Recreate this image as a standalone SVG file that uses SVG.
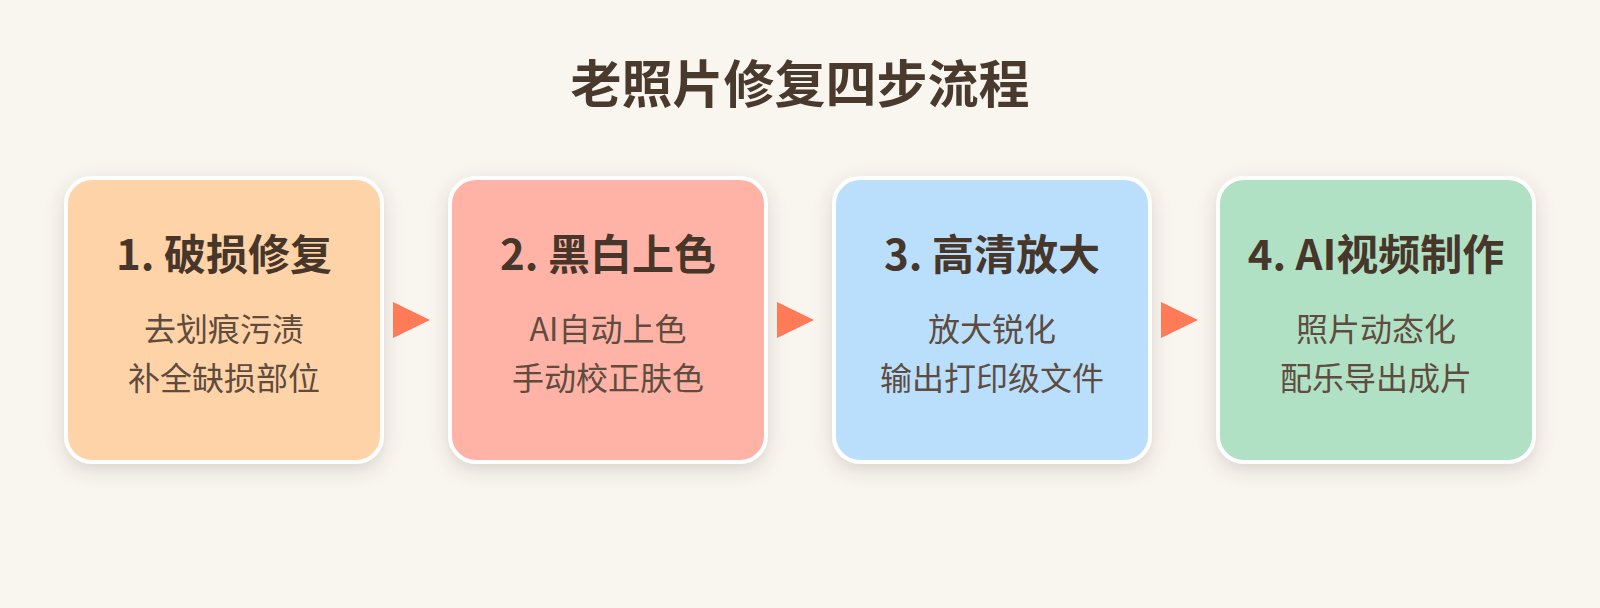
<svg xmlns="http://www.w3.org/2000/svg" width="1600" height="608" viewBox="0 0 1600 608">
  <defs>
    <filter id="shadow" x="-20%" y="-20%" width="140%" height="150%">
      <feDropShadow dx="0" dy="6" stdDeviation="9" flood-color="#5a4632" flood-opacity="0.2"/>
    </filter>
    <style>
      text { font-family: "Noto Sans CJK SC", "Noto Sans", sans-serif; text-anchor: middle; }
      .title { font-size: 51px; font-weight: 700; fill: #4a3a2e; }
      .card { stroke: #ffffff; stroke-width: 4; filter: url(#shadow); }
      .head { font-size: 42px; font-weight: 700; fill: #47362a; }
      .sub { font-size: 32px; font-weight: 400; fill: #5e4c3f; }
      .arrow { fill: #ff7a57; }
    </style>
  </defs>
  <rect width="1600" height="608" fill="#f9f6f0"/>
  <text class="title" x="800" y="103">老照片修复四步流程</text>

  <g id="step1">
    <rect class="card" x="66" y="178" width="316" height="284" rx="26" fill="#fed3a8"/>
    <text class="head" x="224" y="270">1. 破损修复</text>
    <text class="sub" x="224" y="341">去划痕污渍</text>
    <text class="sub" x="224" y="390">补全缺损部位</text>
  </g>
  <g id="step2">
    <rect class="card" x="450" y="178" width="316" height="284" rx="26" fill="#ffb3a7"/>
    <text class="head" x="608" y="270">2. 黑白上色</text>
    <text class="sub" x="608" y="341">AI自动上色</text>
    <text class="sub" x="608" y="390">手动校正肤色</text>
  </g>
  <g id="step3">
    <rect class="card" x="834" y="178" width="316" height="284" rx="26" fill="#b9dffd"/>
    <text class="head" x="992" y="270">3. 高清放大</text>
    <text class="sub" x="992" y="341">放大锐化</text>
    <text class="sub" x="992" y="390">输出打印级文件</text>
  </g>
  <g id="step4">
    <rect class="card" x="1218" y="178" width="316" height="284" rx="26" fill="#b1e1c4"/>
    <text class="head" x="1376" y="270">4. AI视频制作</text>
    <text class="sub" x="1376" y="341">照片动态化</text>
    <text class="sub" x="1376" y="390">配乐导出成片</text>
  </g>

  <g id="connectors">
    <polygon class="arrow" points="393,302 430,320 393,338"/>
    <polygon class="arrow" points="777,302 814,320 777,338"/>
    <polygon class="arrow" points="1161,302 1198,320 1161,338"/>
  </g>
</svg>
